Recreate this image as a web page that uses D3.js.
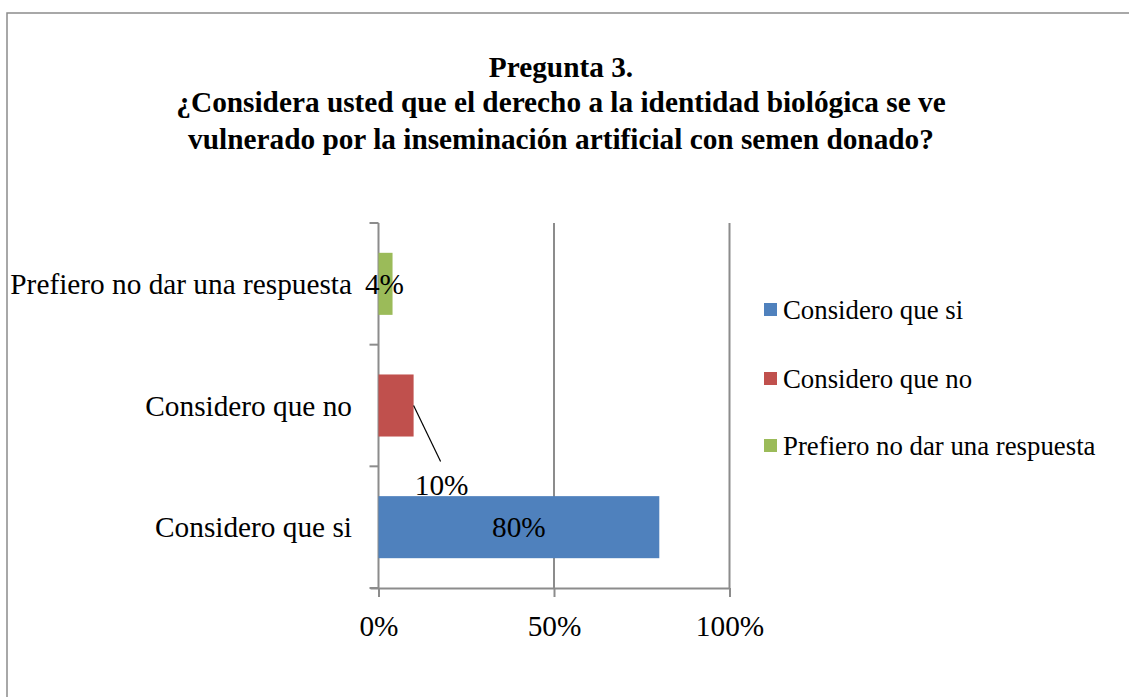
<!DOCTYPE html>
<html>
<head>
<meta charset="utf-8">
<script src="https://cdn.jsdelivr.net/npm/d3@7"></script>
<style>
  body { margin: 0; background: #fff; }
  svg text { font-family: "Liberation Serif", "Times New Roman", serif; fill: #000; }
</style>
</head>
<body>
<div id="chart"></div>
<script>
// Data
const categories = ["Considero que si", "Considero que no", "Prefiero no dar una respuesta"];
const values = [0.80, 0.10, 0.04];
const colors = ["#4f81bd", "#c0504d", "#9bbb59"];
const xTicks = [0, 0.5, 1];
const titleLines = [
    "Pregunta 3.",
    "¿Considera usted que el derecho a la identidad biológica se ve",
    "vulnerado por la inseminación artificial con semen donado?"
];

const width = 1129;
const height = 697;
const plot = { left: 378.5, right: 729.5, top: 223, bottom: 588 };
const fontSize = '29.3px';

const svg = d3.select('#chart')
    .append('svg')
    .attr('width', width)
    .attr('height', height);

// outer chart border
svg.append('rect')
    .attr('x', 7).attr('y', 13)
    .attr('width', width + 10).attr('height', height)
    .attr('fill', 'none')
    .attr('stroke', '#8c8c8c')
    .attr('stroke-width', 1.5);

// Title
svg.append('text')
    .attr('text-anchor', 'middle')
    .style('font-size', fontSize)
    .style('font-weight', 'bold')
    .selectAll('tspan')
    .data(titleLines)
    .enter()
    .append('tspan')
    .attr('x', 561)
    .attr('y', (d, i) => [77, 112, 149][i])
    .text(d => d);

const x = d3.scaleLinear().domain([0, 1]).range([plot.left, plot.right]);
// bottom category first
const y = d3.scaleBand()
    .domain(categories)
    .range([plot.bottom, plot.top])
    .paddingInner(0.49)
    .paddingOuter(0.245);

const axisColor = '#8c8c8c';

// gridlines
svg.append('g')
    .selectAll('line')
    .data(xTicks.slice(1))
    .enter()
    .append('line')
    .attr('x1', d => x(d)).attr('x2', d => x(d))
    .attr('y1', plot.top).attr('y2', plot.bottom)
    .attr('stroke', axisColor)
    .attr('stroke-width', 2);

// x axis
const xAxis = svg.append('g')
    .attr('transform', `translate(0,${plot.bottom})`)
    .call(d3.axisBottom(x).tickValues(xTicks).tickFormat(d3.format('.0%')).tickSize(9).tickSizeOuter(0));
xAxis.select('.domain').attr('stroke', axisColor).attr('stroke-width', 2)
    .attr('d', `M${plot.left - 8},0.5H${plot.right}`);
xAxis.selectAll('.tick line').attr('stroke', axisColor).attr('stroke-width', 2);
xAxis.selectAll('.tick text')
    .attr('dy', null)
    .attr('y', 48)
    .style('font-family', '"Liberation Serif", "Times New Roman", serif')
    .style('font-size', fontSize)
    .attr('fill', '#000');

// y axis (ticks at band boundaries)
const bandEdges = [plot.bottom, plot.bottom - y.step(), plot.bottom - 2 * y.step(), plot.top];
const yAxisG = svg.append('g');
yAxisG.append('line')
    .attr('x1', plot.left).attr('x2', plot.left)
    .attr('y1', plot.top).attr('y2', plot.bottom)
    .attr('stroke', axisColor).attr('stroke-width', 2);
yAxisG.selectAll('line.tick')
    .data(bandEdges)
    .enter()
    .append('line')
    .attr('class', 'tick')
    .attr('x1', plot.left - 9).attr('x2', plot.left)
    .attr('y1', d => d).attr('y2', d => d)
    .attr('stroke', axisColor).attr('stroke-width', 2);
yAxisG.selectAll('text')
    .data(categories)
    .enter()
    .append('text')
    .attr('x', 352)
    .attr('y', d => y(d) + y.bandwidth() / 2)
    .attr('dy', '0.35em')
    .attr('text-anchor', 'end')
    .style('font-size', fontSize)
    .text(d => d);

// bars
svg.append('g')
    .selectAll('rect')
    .data(categories)
    .enter()
    .append('rect')
    .attr('x', x(0))
    .attr('y', d => y(d))
    .attr('width', (d, i) => x(values[i]) - x(0))
    .attr('height', y.bandwidth())
    .attr('fill', (d, i) => colors[i]);

// data labels
const fmt = d3.format('.0%');
// 80% - centered inside
svg.append('text')
    .attr('x', (x(0) + x(values[0])) / 2)
    .attr('y', y(categories[0]) + y.bandwidth() / 2)
    .attr('dy', '0.35em')
    .attr('text-anchor', 'middle')
    .style('font-size', fontSize)
    .text(fmt(values[0]));

// 10% - moved below with leader line
svg.append('line')
    .attr('x1', x(values[1])).attr('y1', y(categories[1]) + y.bandwidth() / 2)
    .attr('x2', x(values[1]) + 27).attr('y2', y(categories[1]) + y.bandwidth() + 25)
    .attr('stroke', '#000').attr('stroke-width', 1.2);
svg.append('text')
    .attr('x', x(values[1]) + 28)
    .attr('y', y(categories[1]) + y.bandwidth() + 58)
    .attr('text-anchor', 'middle')
    .style('font-size', fontSize)
    .text(fmt(values[1]));

// 4%
svg.append('text')
    .attr('x', x(0) + 6)
    .attr('y', y(categories[2]) + y.bandwidth() / 2)
    .attr('dy', '0.35em')
    .attr('text-anchor', 'middle')
    .style('font-size', fontSize)
    .text(fmt(values[2]));

// legend
const legend = svg.append('g').attr('transform', 'translate(764,0)');
const legendY = [310, 379, 446];
categories.forEach((c, i) => {
    legend.append('rect')
        .attr('x', 0).attr('y', legendY[i] - 7)
        .attr('width', 13).attr('height', 13)
        .attr('fill', colors[i]);
    legend.append('text')
        .attr('x', 19).attr('y', legendY[i])
        .attr('dy', '0.35em')
        .style('font-size', '26.8px')
        .text(c);
});
</script>
</body>
</html>
